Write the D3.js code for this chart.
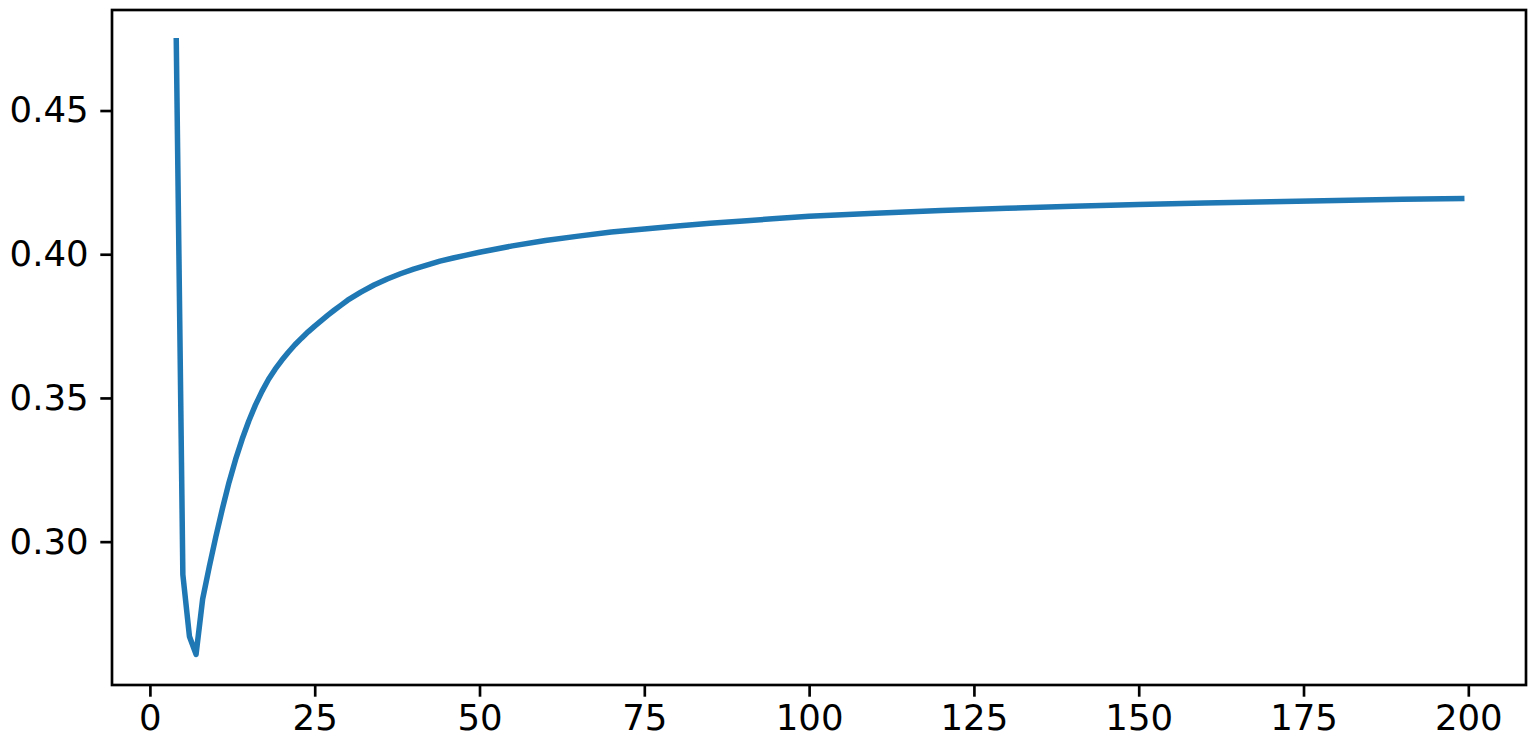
<!DOCTYPE html>
<html>
<head>
<meta charset="utf-8">
<script src="https://cdn.jsdelivr.net/npm/d3@7"></script>
<style>
  body { margin: 0; background: #fff; }
  .axes text { font-family: "DejaVu Sans", sans-serif; font-size: 35.5px; fill: #000; }
  .axes path, .axes line { stroke: #000; stroke-width: 2.67px; }
</style>
</head>
<body>
<div id="chart"></div>
<script>
// values
var xs = [4, 5, 6, 7, 8, 9, 10, 11, 12, 13, 14, 15, 16, 17, 18, 19, 20,
  21, 22, 23, 24, 25, 26, 27, 28, 29, 30, 32, 34, 36, 38, 40, 42, 44, 46, 48, 50,
  55, 60, 65, 70, 75, 80, 85, 90, 95, 100, 110, 120, 130, 140, 150, 160, 170, 180, 190, 199]
var ys = [0.4743, 0.2885, 0.2670, 0.2608, 0.2800, 0.2912, 0.3017, 0.3115, 0.3206,
  0.3286, 0.3357, 0.3420, 0.3475, 0.3523, 0.3565, 0.3600, 0.3631,
  0.3659, 0.3685, 0.3708, 0.3730, 0.3750, 0.3769, 0.3788, 0.3806, 0.3823, 0.3840,
  0.3868, 0.3893, 0.3914, 0.3932, 0.3948, 0.3962, 0.3976, 0.3987, 0.3997, 0.4007,
  0.4029, 0.4048, 0.4063, 0.4077, 0.4088, 0.4098, 0.4108, 0.4116, 0.4124, 0.4132,
  0.4143, 0.4152, 0.4160, 0.4167, 0.4173, 0.4178, 0.4183, 0.4187, 0.4191, 0.4194]
var xTicks = [0, 25, 50, 75, 100, 125, 150, 175, 200]
var yTicks = [0.30, 0.35, 0.40, 0.45]

var data = xs.map(function(x, i) { return {x: x, y: ys[i]} })

const margin = {top: 10, right: 10, bottom: 69, left: 112},
    width = 1536 - margin.left - margin.right,
    height = 754 - margin.top - margin.bottom

var svg = d3.select("#chart")
  .append("svg")
  .attr("width", 1536)
  .attr("height", 754)
  .append("g")
  .attr("transform", "translate(" + margin.left + "," + margin.top + ")")

// matplotlib style 5% margins
var xExt = d3.extent(xs), yExt = d3.extent(ys)
var xPad = (xExt[1] - xExt[0]) * 0.05, yPad = (yExt[1] - yExt[0]) * 0.05

var x = d3.scaleLinear()
  .domain([xExt[0] - xPad, xExt[1] + xPad])
  .range([0, width])

var y = d3.scaleLinear()
  .domain([yExt[0] - yPad, yExt[1] + yPad])
  .range([height, 0])

// the line
svg.append("path")
  .datum(data)
  .attr("fill", "none")
  .attr("stroke", "#1f77b4")
  .attr("stroke-width", 5.5)
  .attr("stroke-linejoin", "round")
  .attr("stroke-linecap", "square")
  .attr("d", d3.line()
    .x(function(d) { return x(d.x) })
    .y(function(d) { return y(d.y) }))

// axes
svg.append("g")
  .attr("class", "axes")
  .attr("transform", "translate(0," + height + ")")
  .call(d3.axisBottom(x).tickValues(xTicks).tickFormat(d3.format("d"))
    .tickSizeOuter(0).tickSize(11.7).tickPadding(8))
  .select(".domain").remove()

svg.append("g")
  .attr("class", "axes")
  .call(d3.axisLeft(y).tickValues(yTicks).tickFormat(d3.format(".2f"))
    .tickSizeOuter(0).tickSize(11.7).tickPadding(11.7))
  .select(".domain").remove()

// frame
svg.append("rect")
  .attr("width", width)
  .attr("height", height)
  .attr("fill", "none")
  .attr("stroke", "#000")
  .attr("stroke-width", 2.67)
</script>
</body>
</html>
